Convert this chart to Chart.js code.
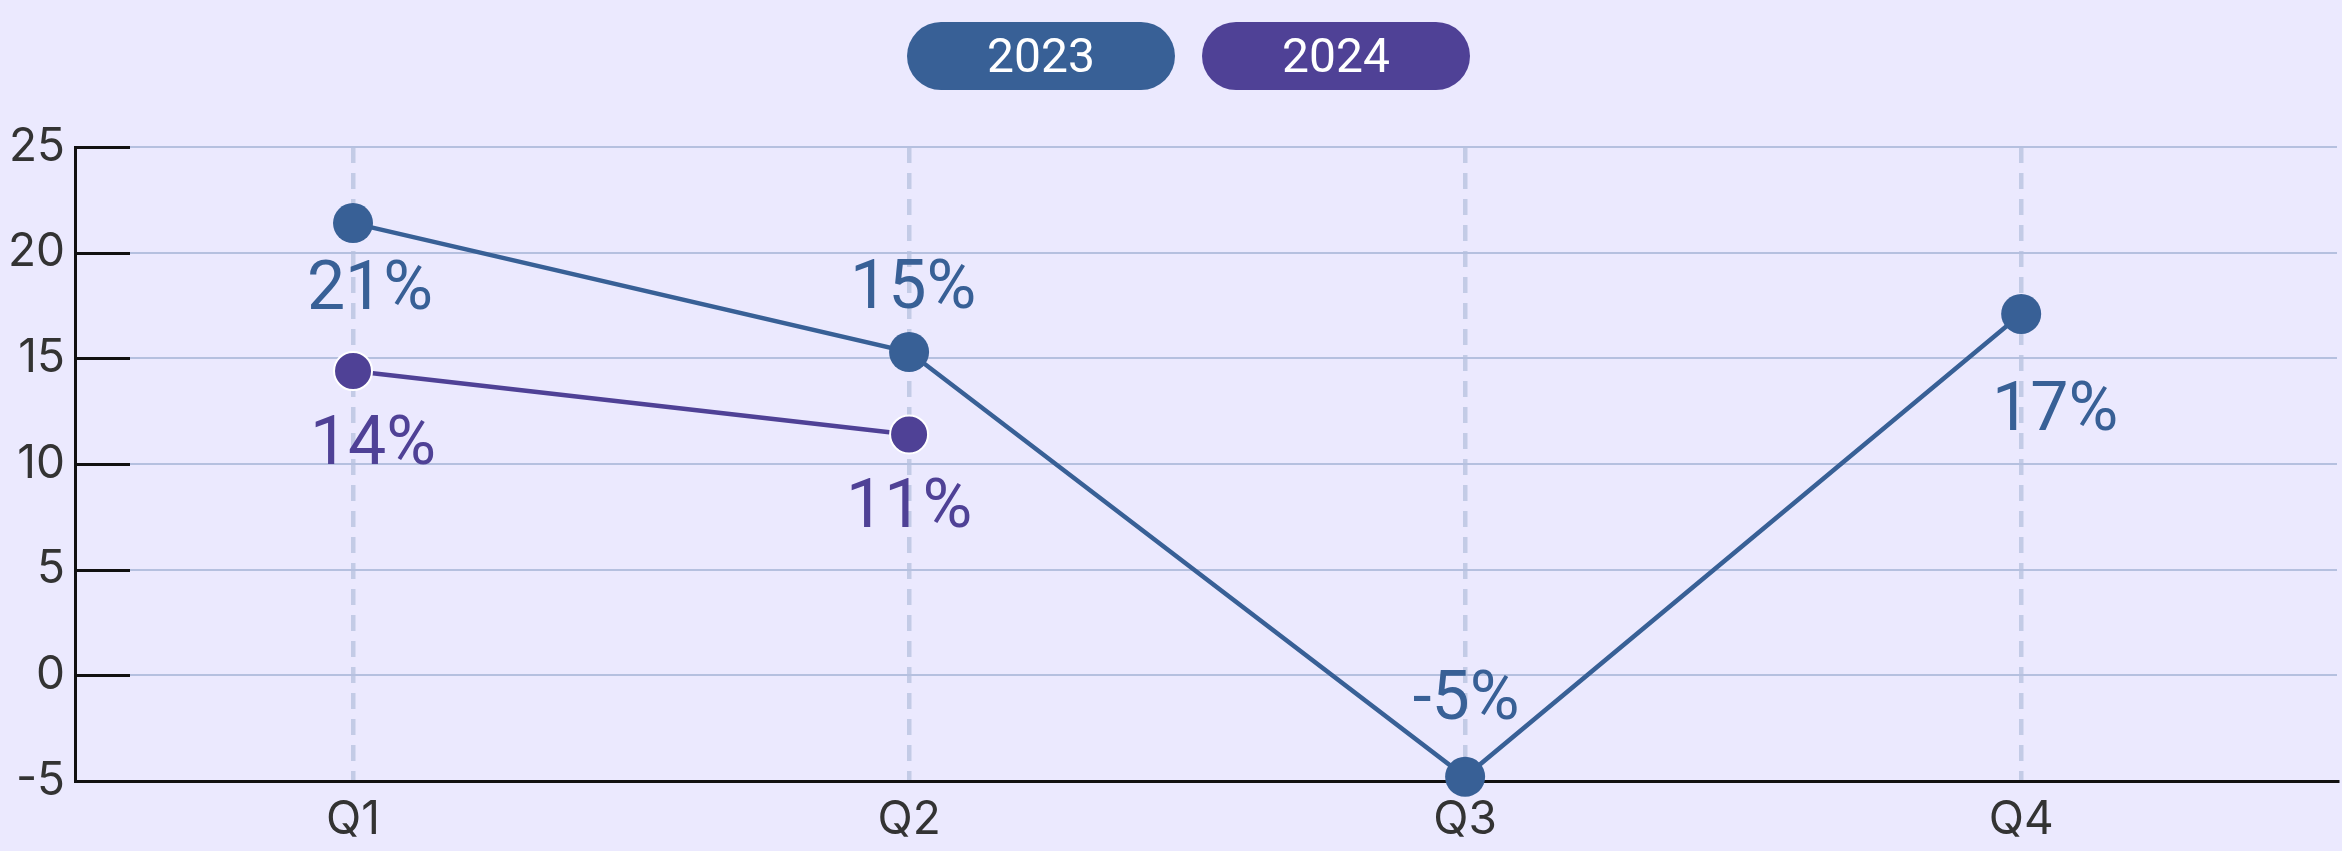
<!DOCTYPE html>
<html>
<head>
<meta charset="utf-8">
<title>Quarterly growth 2023 vs 2024</title>
<script src="https://cdn.jsdelivr.net/npm/chart.js@4.4.1/dist/chart.umd.min.js"></script>
<style>
    html, body { margin: 0; padding: 0; background: #ebe9fe; }
    #wrap { position: relative; width: 2342px; height: 851px; }
    #legend { position: absolute; top: 22px; left: 907px; display: flex; gap: 27px; z-index: 2; }
    .pill { width: 268px; height: 68px; border-radius: 34px; color: #fff; font: 48px Roboto, sans-serif; line-height: 68px; text-align: center; }
    #growth-chart { position: absolute; left: 0; top: 0; }
</style>
</head>
<body>
<div id="wrap">
    <div id="legend"></div>
    <canvas id="growth-chart" width="2342" height="851"></canvas>
</div>
<script>
// Data
const quarters = ['Q1', 'Q2', 'Q3', 'Q4'];
const seriesNames = ['2023', '2024'];
const growth2023 = [21.4, 15.3, -4.8, 17.1];
const growth2024 = [14.4, 11.4, null, null];
const yTickValues = [-5, 0, 5, 10, 15, 20, 25];

const colors = ['#386096', '#4f4196'];
const tickFont = { family: 'Inter, "Liberation Sans", sans-serif', size: 46 };

// Turn a list of values into points on the quarter axis
function toPoints(values) {
    return quarters.map((q, i) => ({ x: i + 1, y: values[i] }));
}

// Short black ticks drawn inside the plot, on the y axis
const innerTicks = {
    id: 'innerTicks',
    beforeDatasetsDraw(chart, args, opts) {
        const { ctx, chartArea } = chart;
        const yScale = chart.scales.y;
        ctx.save();
        ctx.strokeStyle = opts.color;
        ctx.lineWidth = opts.width;
        yScale.ticks.forEach(t => {
            const py = Math.round(yScale.getPixelForValue(t.value)) + 0.5;
            ctx.beginPath();
            ctx.moveTo(chartArea.left, py);
            ctx.lineTo(chartArea.left + opts.length, py);
            ctx.stroke();
        });
        ctx.restore();
    }
};

// Percent labels next to each point
const pointLabels = {
    id: 'pointLabels',
    afterDatasetsDraw(chart, args, opts) {
        const { ctx } = chart;
        ctx.save();
        ctx.font = `${opts.size}px ${opts.family}`;
        ctx.textAlign = 'center';
        ctx.textBaseline = 'alphabetic';
        chart.data.datasets.forEach((ds, di) => {
            const meta = chart.getDatasetMeta(di);
            const offs = opts.offsets[di] || [];
            meta.data.forEach((pt, i) => {
                const v = ds.data[i].y;
                if (v === null || v === undefined) return;
                const [dx, dy] = offs[i] || [0, 0];
                ctx.fillStyle = ds.borderColor;
                ctx.fillText(Math.round(v) + '%', pt.x + dx, pt.y + dy + opts.size * 0.355);
            });
        });
        ctx.restore();
    }
};

const ctx = document.getElementById('growth-chart');

const growthChart = new Chart(ctx, {
    type: 'line',
    data: {
        datasets: [
            {
                label: seriesNames[0],
                data: toPoints(growth2023),
                borderColor: colors[0],
                backgroundColor: colors[0],
                pointBackgroundColor: colors[0],
                borderWidth: 4.5,
                pointRadius: 20,
                pointBorderWidth: 0,
                pointHoverRadius: 20,
                clip: false
            },
            {
                label: seriesNames[1],
                data: toPoints(growth2024),
                borderColor: colors[1],
                backgroundColor: colors[1],
                pointBackgroundColor: colors[1],
                pointBorderColor: '#ffffff',
                borderWidth: 4.5,
                pointRadius: 19,
                pointBorderWidth: 2,
                pointHoverRadius: 19,
                clip: false
            }
        ]
    },
    options: {
        responsive: false,
        animation: false,
        events: [],
        layout: {
            autoPadding: false,
            padding: { top: 147, right: 5, bottom: 0, left: 0 }
        },
        plugins: {
            legend: { display: false },
            tooltip: { enabled: false },
            innerTicks: { color: '#111111', width: 3, length: 55 },
            pointLabels: {
                family: 'Roboto, sans-serif',
                size: 68,
                offsets: [
                    [[17, 62], [4, -68], [1, -82], [34, 92]],
                    [[20, 69], [0, 68]]
                ]
            }
        },
        scales: {
            x: {
                type: 'linear',
                bounds: 'data',
                min: 0.5,
                max: 4.568,
                afterBuildTicks: scale => {
                    scale.ticks = quarters.map((q, i) => ({ value: i + 1 }));
                },
                afterFit: scale => {
                    scale.height = 70;
                    scale.paddingLeft = 0;
                    scale.paddingRight = 0;
                },
                ticks: {
                    callback: value => quarters[value - 1],
                    font: tickFont,
                    color: '#333333',
                    padding: 12,
                    autoSkip: false,
                    maxRotation: 0
                },
                grid: { color: '#c3cbe6', lineWidth: 4.5, drawTicks: false },
                border: { color: '#111111', width: 3, dash: [16, 10] }
            },
            y: {
                min: -5,
                max: 25,
                afterBuildTicks: scale => {
                    scale.ticks = yTickValues.map(v => ({ value: v }));
                },
                afterFit: scale => { scale.width = 75; },
                ticks: {
                    font: tickFont,
                    color: '#333333',
                    padding: 10
                },
                grid: { color: '#b5c0df', lineWidth: 2, drawTicks: false },
                border: { color: '#111111', width: 3 }
            }
        }
    },
    plugins: [innerTicks, pointLabels]
});

// HTML legend built from the datasets
const legendEl = document.getElementById('legend');
growthChart.data.datasets.forEach(ds => {
    const pill = document.createElement('div');
    pill.className = 'pill';
    pill.style.background = ds.borderColor;
    pill.textContent = ds.label;
    legendEl.appendChild(pill);
});
</script>
</body>
</html>
